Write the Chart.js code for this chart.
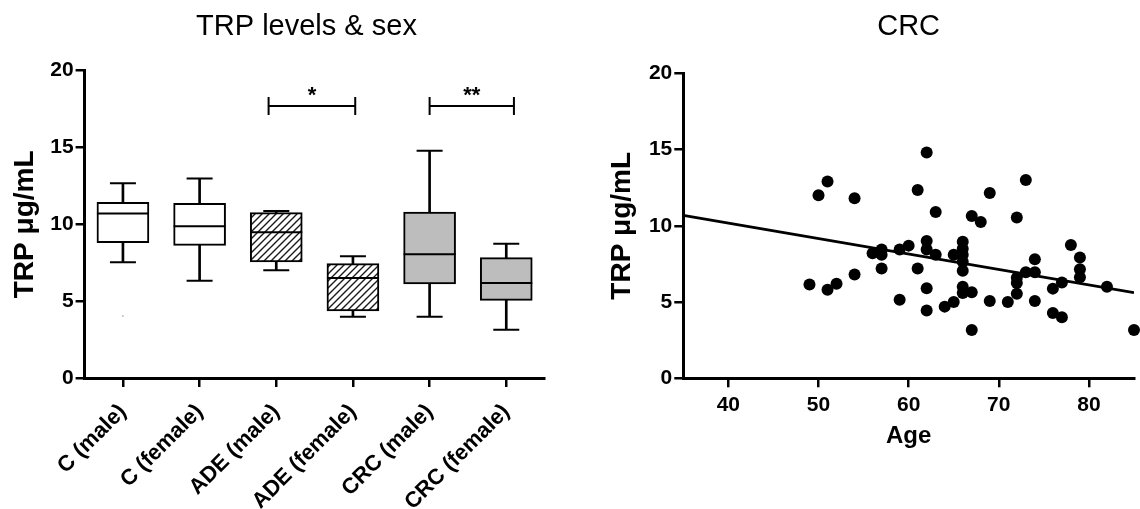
<!DOCTYPE html>
<html lang="en">
<head>
    <meta charset="UTF-8">
    <title>TRP levels</title>
    <script src="https://cdn.jsdelivr.net/npm/chart.js"></script>
    <style>
        body {
            margin: 0;
            background: white;
            overflow: hidden;
            width: 1140px;
            height: 509px;
            position: relative;
        }
        #leftChart, #rightChart {
            position: absolute;
            top: 0;
        }
        #leftChart { left: 0; }
        #rightChart { left: 570px; }
    </style>
</head>
<body>
    <canvas id="leftChart" width="613" height="509"></canvas>
    <canvas id="rightChart" width="570" height="509"></canvas>

    <script>
        // box plot: TRP by group and sex
        const groups = ["C (male)", "C (female)", "ADE (male)", "ADE (female)", "CRC (male)", "CRC (female)"];
        const whiskerLow = [7.53, 6.33, 7.01, 3.99, 3.99, 3.14];
        const q1 = [8.80, 8.63, 7.55, 4.36, 6.12, 5.05];
        const median = [10.71, 9.87, 9.48, 6.51, 8.05, 6.18];
        const q3 = [11.43, 11.37, 10.76, 7.44, 10.80, 7.83];
        const whiskerHigh = [12.67, 12.99, 10.87, 7.92, 14.79, 8.74];
        const outliers = [4.03, null, null, null, null, null];

        // significance brackets (category index positions)
        const bracketFrom = [1.9, 4.0];
        const bracketTo = [3.03, 5.1];
        const bracketY = [17.7, 17.7];
        const bracketMarks = ["*", "**"];

        const trpTicks = [0, 5, 10, 15, 20];

        // scatter: CRC age vs TRP
        const ages = [49, 50, 51, 51, 52, 54, 54, 56, 57, 57, 57, 59, 59, 60, 61, 61,
            62, 62, 62, 62, 62, 63, 63, 64, 65, 65, 66, 66, 66, 66, 66, 66, 66,
            67, 67, 67, 68, 69, 69, 71, 72, 72, 72, 72, 73, 73, 74, 74, 74,
            76, 76, 77, 77, 78, 79, 79, 79, 82, 85];
        const trp = [6.15, 12.0, 12.9, 5.8, 6.2, 11.8, 6.8, 8.2, 8.45, 8.1, 7.2, 8.45, 5.15, 8.7, 12.35, 7.2,
            14.8, 9.0, 8.45, 5.9, 4.45, 10.9, 8.1, 4.7, 8.1, 5.0, 8.95, 8.5, 8.1, 7.65, 7.05, 6.0, 5.6,
            10.65, 5.65, 3.17, 10.25, 12.15, 5.07, 5.0, 10.55, 6.6, 6.25, 5.55, 13.0, 6.95, 7.8, 6.95, 5.07,
            5.88, 4.28, 6.28, 4.0, 8.74, 7.92, 7.15, 6.63, 6.0, 3.17];
        const fitAge = [35, 85];
        const fitTrp = [10.69, 5.62];
        const ageTicks = [40, 50, 60, 70, 80];

        Chart.defaults.font.family = "'Liberation Sans', Arial, sans-serif";
        Chart.defaults.color = "#000";

        function makeHatch() {
            const c = document.createElement("canvas");
            c.width = 7;
            c.height = 7;
            const g = c.getContext("2d");
            g.fillStyle = "#fff";
            g.fillRect(0, 0, 7, 7);
            g.strokeStyle = "#1a1a1a";
            g.lineWidth = 1.4;
            g.beginPath();
            g.moveTo(0, 7); g.lineTo(7, 0);
            g.moveTo(-1, 1); g.lineTo(1, -1);
            g.moveTo(6, 8); g.lineTo(8, 6);
            g.stroke();
            return g.createPattern(c, "repeat");
        }
        const hatch = makeHatch();
        const gray = "#bdbdbd";
        const boxFills = ["#fff", "#fff", hatch, hatch, gray, gray];

        const axisBorder = { display: true, color: "#000", width: 3 };
        const tickMarks = { display: true, drawOnChartArea: false, drawTicks: true, tickLength: 9, color: "#000", lineWidth: 2.5 };
        const bold21 = { size: 21, weight: "bold" };

        const bracketPlugin = {
            id: "brackets",
            afterDatasetsDraw(chart) {
                const { ctx, scales: { x, y } } = chart;
                ctx.save();
                ctx.strokeStyle = "#000";
                ctx.lineWidth = 2;
                ctx.fillStyle = "#000";
                ctx.font = "bold 22px 'Liberation Sans', Arial, sans-serif";
                ctx.textAlign = "center";
                ctx.textBaseline = "middle";
                for (let i = 0; i < bracketMarks.length; i++) {
                    const x1 = x.getPixelForValue(bracketFrom[i]);
                    const x2 = x.getPixelForValue(bracketTo[i]);
                    const yy = y.getPixelForValue(bracketY[i]);
                    ctx.beginPath();
                    ctx.moveTo(x1, yy); ctx.lineTo(x2, yy);
                    ctx.moveTo(x1, yy - 9); ctx.lineTo(x1, yy + 9);
                    ctx.moveTo(x2, yy - 9); ctx.lineTo(x2, yy + 9);
                    ctx.stroke();
                    ctx.fillText(bracketMarks[i], (x1 + x2) / 2, yy - 10);
                }
                ctx.restore();
            }
        };

        new Chart(document.getElementById("leftChart"), {
            type: "bar",
            data: {
                labels: groups,
                datasets: [
                    {
                        data: groups.map((_, i) => [whiskerLow[i], whiskerHigh[i]]),
                        backgroundColor: "#000",
                        borderWidth: 0,
                        barThickness: 2,
                        grouped: false,
                        order: 3
                    },
                    {
                        data: groups.map((_, i) => [q1[i], q3[i]]),
                        backgroundColor: boxFills,
                        borderColor: "#000",
                        borderWidth: 2,
                        borderSkipped: false,
                        barThickness: 52,
                        grouped: false,
                        order: 2
                    },
                    {
                        type: "line",
                        data: whiskerLow,
                        showLine: false,
                        pointStyle: "line",
                        pointRadius: 13,
                        pointBorderWidth: 2,
                        pointBorderColor: "#000",
                        order: 1
                    },
                    {
                        type: "line",
                        data: whiskerHigh,
                        showLine: false,
                        pointStyle: "line",
                        pointRadius: 13,
                        pointBorderWidth: 2,
                        pointBorderColor: "#000",
                        order: 1
                    },
                    {
                        type: "line",
                        data: median,
                        showLine: false,
                        pointStyle: "line",
                        pointRadius: 26,
                        pointBorderWidth: 2,
                        pointBorderColor: "#000",
                        order: 0
                    },
                    {
                        type: "line",
                        data: outliers,
                        showLine: false,
                        pointRadius: 0.8,
                        pointBorderWidth: 0,
                        pointBackgroundColor: "#999",
                        order: 0
                    }
                ]
            },
            options: {
                responsive: false,
                animation: false,
                events: [],
                layout: { padding: 0 },
                plugins: {
                    legend: { display: false },
                    tooltip: { enabled: false },
                    title: {
                        display: true,
                        text: "TRP levels & sex",
                        font: { size: 29, weight: "normal" },
                        padding: { top: 9.6, bottom: 26.3 }
                    }
                },
                scales: {
                    x: {
                        grid: Object.assign({}, tickMarks, { offset: false }),
                        border: axisBorder,
                        ticks: {
                            font: { size: 22, weight: "bold" },
                            minRotation: 45,
                            maxRotation: 45,
                            autoSkip: false,
                            padding: 12
                        },
                        afterFit(scale) {
                            scale.height = 131;
                            scale.paddingLeft = 0;
                            scale.paddingRight = 0;
                        }
                    },
                    y: {
                        min: 0,
                        max: 20,
                        grid: tickMarks,
                        border: axisBorder,
                        ticks: { font: bold21, padding: 2 },
                        afterBuildTicks(scale) { scale.ticks = trpTicks.map(v => ({ value: v })); },
                        title: {
                            display: true,
                            text: "TRP μg/mL",
                            font: { size: 28, weight: "bold" },
                            padding: { top: 8.2, bottom: 0 }
                        },
                        afterFit(scale) { scale.width = 84.6; }
                    },
                    // empty right-hand margin so the title sits where the original put it
                    yMargin: {
                        position: "right",
                        grid: { display: false },
                        border: { display: false },
                        ticks: { display: false },
                        afterFit(scale) { scale.width = 68.4; }
                    }
                }
            },
            plugins: [bracketPlugin]
        });

        new Chart(document.getElementById("rightChart"), {
            type: "scatter",
            data: {
                datasets: [
                    {
                        data: ages.map((a, i) => ({ x: a, y: trp[i] })),
                        pointRadius: 6,
                        pointBorderWidth: 0,
                        backgroundColor: "#000",
                        clip: false
                    },
                    {
                        type: "line",
                        data: fitAge.map((a, i) => ({ x: a, y: fitTrp[i] })),
                        borderColor: "#000",
                        borderWidth: 2.8,
                        pointRadius: 0
                    }
                ]
            },
            options: {
                responsive: false,
                animation: false,
                events: [],
                layout: { padding: 0 },
                plugins: {
                    legend: { display: false },
                    tooltip: { enabled: false },
                    title: {
                        display: true,
                        text: "CRC",
                        fullSize: false,
                        font: { size: 29, weight: "normal" },
                        padding: { top: 9.6, bottom: 28.9 }
                    }
                },
                scales: {
                    x: {
                        type: "linear",
                        min: 35,
                        max: 85,
                        grid: tickMarks,
                        border: axisBorder,
                        ticks: { font: bold21, padding: 5 },
                        afterBuildTicks(scale) { scale.ticks = ageTicks.map(v => ({ value: v })); },
                        title: {
                            display: true,
                            text: "Age",
                            font: { size: 24, weight: "bold" },
                            padding: { top: 0, bottom: 58.6 }
                        },
                        afterFit(scale) {
                            scale.height = 130.7;
                            scale.paddingLeft = 0;
                            scale.paddingRight = 0;
                        }
                    },
                    y: {
                        min: 0,
                        max: 20,
                        grid: tickMarks,
                        border: axisBorder,
                        ticks: { font: bold21, padding: 2 },
                        afterBuildTicks(scale) { scale.ticks = trpTicks.map(v => ({ value: v })); },
                        title: {
                            display: true,
                            text: "TRP μg/mL",
                            font: { size: 28, weight: "bold" },
                            padding: { top: 35.2, bottom: 0 }
                        },
                        afterFit(scale) { scale.width = 113.3; }
                    }
                }
            }
        });
    </script>
</body>
</html>
